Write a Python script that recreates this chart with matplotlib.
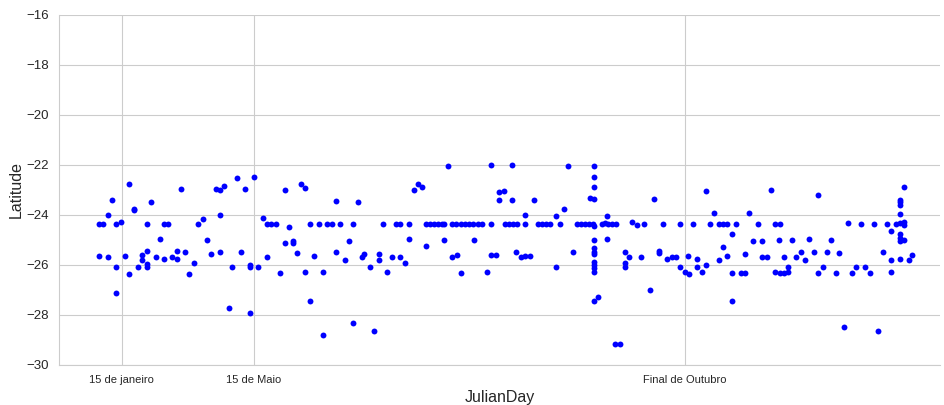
import numpy as np
import pandas as pd
import seaborn as sns
import matplotlib
matplotlib.use("Agg")
import matplotlib.pyplot as plt

# sightings: (JulianDay, Latitude)
julian_day = [
    29.2, 22.2, 50.8, 65.1, 66.8, 68.4, 31.2, 31.2, 38.1, 20.2, 16.6, 18.3, 23.7, 25.9,
    36.4, 43.5, 45.4, 57.8, 59.7, 66.8, 41.8, 61.5, 16.6, 20.2, 27.4, 34.5, 36.4, 34.5,
    36.4, 36.4, 32.7, 40.2, 43.5, 47.1, 48.9, 48.9, 52.5, 56.0, 54.2, 63.2, 66.8, 23.7,
    29.1, 23.7,
    74.1, 77.4, 81.0, 93.8, 100.7, 102.4, 115.1, 124.1, 84.8, 86.4, 88.1, 90.0, 95.4,
    104.4, 108.0, 111.3, 113.3, 116.8, 122.0, 93.8, 97.2, 97.2, 120.4, 75.5, 86.4, 99.0,
    106.0, 115.1, 118.7, 125.8, 126.9, 72.0, 79.4, 79.4, 82.8, 91.8, 102.4, 109.7, 70.5,
    79.4, 104.4, 122.0, 109.7,
    161.8, 179.3, 147.3, 149.0, 150.8, 182.9, 184.7, 182.9, 134.7, 140.0, 141.6, 145.3,
    152.6, 154.3, 155.9, 157.6, 159.3, 160.1, 163.1, 164.8, 167.0, 168.7, 170.5, 172.1,
    173.9, 175.6, 179.3, 145.3, 152.6, 159.8, 172.3, 132.9, 132.9, 138.5, 141.6, 143.7,
    129.3, 136.4, 163.4, 165.2, 179.3, 181.4, 167.0, 177.7, 131.0,
    188.3, 211.6, 222.1, 222.1, 222.1, 188.3, 197.3, 220.5, 222.1, 209.7, 206.3, 193.6,
    227.7, 185.3, 187.0, 188.6, 190.1, 193.6, 198.9, 200.5, 202.2, 204.0, 208.0, 215.2,
    216.9, 218.5, 220.3, 221.9, 222.4, 225.7, 226.8, 228.2, 229.9, 231.4, 238.1, 240.3,
    243.2, 227.7, 222.1, 222.1, 222.1, 222.1, 190.0, 191.9, 193.7, 195.7, 213.4, 235.0,
    236.7, 241.9, 222.1, 222.1, 222.1, 222.1, 235.0, 235.0, 206.3, 222.1, 224.1, 231.1,
    233.2,
    247.3, 268.9, 295.7, 272.3, 286.5, 250.9, 257.9, 263.3, 270.6, 274.2, 275.9, 277.5,
    281.3, 290.3, 297.3, 299.4, 279.6, 288.5, 292.0, 299.1, 275.9, 249.1, 249.1, 252.6,
    254.5, 256.3, 261.5, 265.2, 277.5, 284.9, 292.0, 294.0, 301.1, 257.9, 260.0, 261.6,
    265.2, 267.0, 268.9, 274.2, 279.6, 283.2, 284.9, 297.3, 299.4, 301.1, 279.6, 245.7,
    315.2, 351.2, 349.3, 349.3, 349.3, 349.3, 327.8, 333.2, 338.5, 343.9, 347.5, 349.3,
    351.2, 351.2, 345.7, 349.3, 349.3, 349.3, 351.2, 304.7, 311.6, 320.6, 308.3, 313.7,
    318.9, 324.2, 306.3, 309.9, 342.2, 345.7, 349.3, 352.9, 354.5, 302.7, 302.7, 317.3,
    315.2, 322.7, 331.1, 329.6, 335.0, 336.9, 345.7, 326.0, 340.3,
]
latitude = [
    -22.76, -23.40, -22.95, -22.95, -23.01, -22.85, -23.75, -23.81, -23.47, -23.99, -24.37,
    -24.37, -24.37, -24.27, -24.37, -24.37, -24.37, -24.37, -24.15, -23.99, -24.97, -25.01,
    -25.64, -25.68, -25.64, -25.59, -25.43, -25.81, -25.97, -26.08, -26.07, -25.68, -25.76,
    -25.68, -25.76, -25.43, -25.47, -25.91, -26.36, -25.56, -25.47, -26.07, -26.36, -27.12,
    -22.51, -22.96, -22.48, -22.99, -22.76, -22.93, -23.43, -23.47, -24.13, -24.37, -24.37,
    -24.37, -24.47, -24.37, -24.37, -24.37, -24.37, -24.37, -24.37, -25.11, -25.03, -25.13,
    -25.04, -25.47, -25.68, -25.52, -25.64, -25.47, -25.81, -25.67, -25.57, -26.07, -25.99,
    -26.09, -26.07, -26.32, -26.29, -26.29, -27.71, -27.93, -27.44, -28.32, -28.80,
    -22.03, -21.99, -22.99, -22.76, -22.87, -23.08, -23.04, -23.40, -24.37, -24.37, -24.37,
    -24.37, -24.37, -24.37, -24.37, -24.37, -24.37, -24.37, -24.37, -24.37, -24.37, -24.37,
    -24.37, -24.37, -24.37, -24.37, -24.37, -24.97, -25.23, -25.01, -25.01, -25.57, -25.81,
    -25.68, -25.68, -25.91, -26.07, -26.29, -25.68, -25.59, -25.59, -25.59, -26.32, -26.29,
    -28.64,
    -22.00, -22.03, -22.03, -22.47, -22.89, -23.40, -23.40, -23.33, -23.36, -23.77, -24.03,
    -23.99, -24.03, -24.37, -24.37, -24.37, -24.37, -24.37, -24.37, -24.37, -24.37, -24.37,
    -24.37, -24.37, -24.37, -24.37, -24.37, -24.37, -24.43, -24.37, -24.33, -24.37, -24.37,
    -24.37, -24.29, -24.40, -24.37, -24.95, -25.01, -25.33, -25.47, -25.55, -25.49, -25.68,
    -25.64, -25.64, -25.49, -25.49, -25.68, -25.68, -25.89, -26.00, -26.11, -26.29, -25.93,
    -26.09, -26.07, -27.45, -27.29, -29.15, -29.15,
    -23.35, -23.03, -22.99, -23.92, -23.92, -24.37, -24.37, -24.37, -24.37, -24.37, -24.37,
    -24.37, -24.37, -24.37, -24.37, -24.37, -24.76, -25.04, -25.04, -25.01, -25.29, -25.45,
    -25.52, -25.76, -25.69, -25.69, -25.64, -25.76, -25.64, -25.56, -25.68, -25.68, -25.68,
    -26.08, -26.29, -26.36, -26.08, -26.29, -26.00, -25.81, -26.32, -26.32, -26.32, -26.29,
    -26.32, -26.32, -27.44, -27.00,
    -23.21, -22.89, -23.40, -23.49, -23.60, -23.96, -24.31, -24.37, -24.37, -24.37, -24.37,
    -24.31, -24.27, -24.40, -24.65, -24.75, -24.93, -25.04, -25.01, -25.01, -24.95, -25.01,
    -25.47, -25.47, -25.47, -25.53, -25.68, -25.81, -25.47, -25.79, -25.75, -25.79, -25.59,
    -26.07, -26.29, -26.07, -26.32, -26.32, -26.07, -26.32, -26.07, -26.32, -26.29, -28.48,
    -28.64,
]

tick_days = [26, 81, 260]
tick_labels = ["15 de janeiro", "15 de Maio", "Final de Outubro"]

df = pd.DataFrame({"JulianDay": julian_day, "Latitude": latitude})

sns.set_style("whitegrid")
plt.rcParams["font.family"] = ["Liberation Sans", "DejaVu Sans"]

fig = plt.figure(figsize=(9.44, 4.05), dpi=100)
ax = fig.add_axes([0.0625, 0.0988, 0.9333, 0.8642])
ax.scatter(df["JulianDay"], df["Latitude"], s=18, color="blue", linewidths=0, zorder=3)

ax.set_xlim(0, 366)
ax.set_ylim(-30, -16)
ax.set_yticks(np.arange(-30, -15, 2))
ax.set_xticks(tick_days)
ax.set_xticklabels(tick_labels, fontsize=8, color="#262626")
ax.tick_params(axis="y", labelsize=9.5, colors="#262626")
ax.set_xlabel("JulianDay", fontsize=11.5, color="#262626")
ax.set_ylabel("Latitude", fontsize=11.5, color="#262626", labelpad=2)
sns.despine(ax=ax)

fig.savefig("out.png", dpi=100)
